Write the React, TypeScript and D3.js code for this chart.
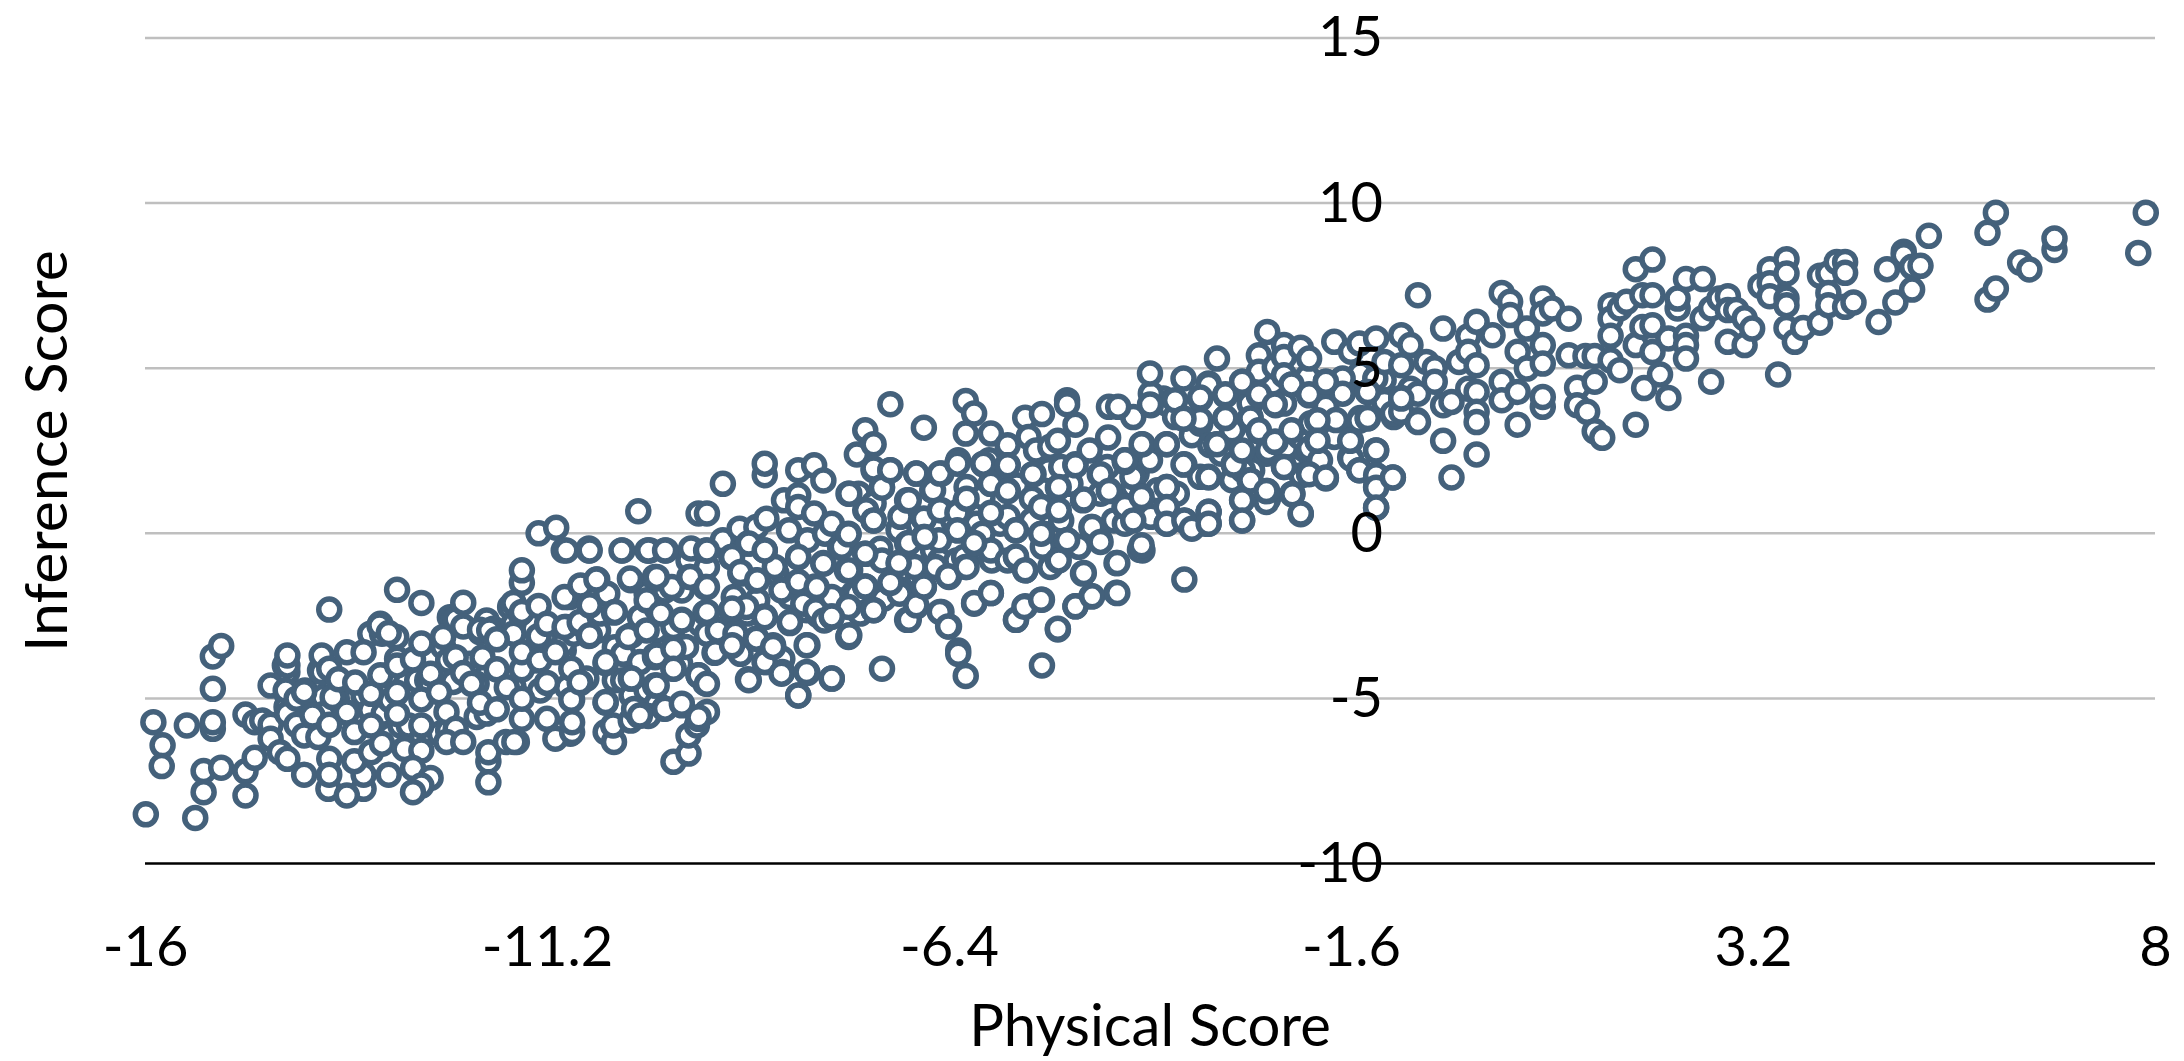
import React, { useEffect, useRef } from 'react'
import * as d3 from 'd3'

const width = 2184
const height = 1061

const xTicks = [-16, -11.2, -6.4, -1.6, 3.2, 8]
const yTicks = [-10, -5, 0, 5, 10, 15]

// left to right in four overlapping bands [physical, inference]
const lowBand: [number, number][] = [
  [-15.99,-8.51],[-15.4,-8.62],[-15.9,-5.72],[-15.79,-6.42],[-15.8,-7.05],[-15.5,-5.82],[-15.19,-4.71],[-15.19,-5.92],[-15.19,-5.72],[-15.19,-3.73],[-15.09,-3.41],
  [-15.3,-7.2],[-15.09,-7.1],[-15.3,-7.84],[-14.8,-7.21],[-14.8,-7.94],[-14.69,-6.8],[-14.8,-5.49],[-14.69,-5.72],[-14.6,-5.67],[-14.5,-5.8],[-14.5,-6.22],[-14.5,-4.61],
  [-14.39,-6.63],[-14.3,-6.83],[-14.3,-4.2],[-14.3,-4],[-14.3,-3.7],[-14.3,-5.47],[-14.32,-4.76],[-14.19,-5.01],[-14.19,-5.8],[-14.1,-4.81],[-14.1,-6.12],[-14.1,-7.31],[-14,-5.52],
  [-13.93,-6.17],[-13.8,-2.31],[-13.89,-4.2],[-13.89,-3.7],[-13.8,-4.1],[-13.76,-4.96],[-13.69,-4.42],[-13.49,-4.52],[-13.59,-3.6],[-13.39,-3.6],[-13.59,-5.43],[-13.8,-5.8],[-13.5,-6.02],
  [-13.81,-7.74],[-13.8,-6.83],[-13.8,-7.31],[-13.39,-7.74],[-13.59,-7.94],[-13.39,-7.31],[-13.5,-6.9],[-13.3,-6.63],[-13.3,-5.82],[-13.3,-4.86],[-13.19,-4.3],[-13.2,-2.79],[-13.09,-3.02],
  [-13.17,-6.37],[-12.99,-1.71],[-12.7,-2.11],[-12.99,-4],[-12.99,-4.83],[-12.99,-5.47],[-12.8,-3.82],[-12.7,-3.34],[-12.7,-5.03],[-12.7,-5.82],[-12.9,-6.53],[-12.7,-6.58],[-13.09,-7.31],
  [-12.8,-7.11],[-12.59,-7.41],[-12.7,-7.64],[-12.8,-7.84],[-12.59,-4.25],[-12.49,-4.81],[-12.44,-3.14],[-12.4,-5.41],[-12.29,-3.75],[-12.29,-2.61],[-12.2,-2.1],[-12.2,-2.82],[-12.2,-4.23],
  [-12.29,-5.92],[-12.4,-6.32],[-12.2,-6.32],[-12.1,-4.56],[-12,-2.92],[-11.97,-3.75],[-11.89,-2.94],[-11.8,-3.21],[-11.8,-4.12],[-12,-5.13],[-11.8,-5.33],[-11.9,-6.91],[-11.9,-6.63],[-11.9,-7.54],
  [-11.69,-6.32],[-11.59,-6.32],[-11.68,-4.66],[-11.5,-5.62],[-11.5,-5.01],[-11.5,-4.12],[-11.5,-3.6],[-11.5,-1.5],[-11.5,-1.12],[-11.6,-2.11],[-11.5,-2.38],[-11.3,-2.2],[-11.3,-3.11],[-11.29,-3.85],
  [-11.1,-3.6],[-11.2,-4.53],[-11.2,-5.62],[-11.1,-6.22],[-11.2,-2.74],[-10.99,-1.93],[-10.99,-2.84],[-10.9,-5.04],[-10.9,-6.02],[-10.9,-5.72],[-10.8,-4.53],[-10.8,-2.74],[-10.7,-3.11],
  [-10.69,-2.2],[-10.8,-1.58],[-10.6,-1.4],[-11,-0.52],[-10.7,-0.52],[-11.3,0],[-11.09,0.17],[-10.3,-0.52],[-10,-0.52],[-10.57,-2.43],[-10.48,-1.83],[-10.4,-2.4],[-10.2,-1.42],[-10.5,-3.93],
  [-10.23,-3.14],[-10.2,-4.4],[-10.5,-5.13],[-10.5,-6.02],[-10.4,-6.32],[-10.41,-5.82],[-10.2,-5.67],[-10.1,-5.52],[-10.16,-5.32],[-10.01,-2.03],[-10.01,-2.94],[-9.91,-3.75],[-9.91,-4.61],[-9.91,-1.37],
  [-10.11,0.67],[-10.7,-0.46],[-9.99,-5.53],[-9.69,-6.92],[-9.51,-6.67],[-9.51,-6.12],[-9.41,-5.82],
]

const midBand: [number, number][] = [
  [-9.97,-0.52],[-9.91,-1.32],[-9.91,-3.7],[-9.84,-2.43],[-9.8,-5.31],[-9.78,-0.52],[-9.71,-1.63],[-9.69,-3.5],[-9.69,-4.1],[-9.59,-5.21],[-9.59,-2.62],[-9.54,-3.44],[-9.5,-1.32],[-9.48,-0.46],
  [-9.39,-4.3],[-9.39,-5.62],[-9.39,0.6],[-9.31,-4.54],[-9.31,-2.41],[-9.31,-1.63],[-9.3,-0.52],[-9.29,-5.41],[-9.29,0.6],[-9.2,-3.62],[-9.16,-2.94],[-9.1,1.5],[-9.1,-0.21],[-9,-0.72],[-9,-2.33],[-9,-3.41],
  [-8.95,-3.04],[-8.9,0.14],[-8.89,-1.22],[-8.82,-2.23],[-8.8,-0.31],[-8.8,-4.42],[-8.7,-1.43],[-8.7,0.19],[-8.7,-3.19],[-8.6,1.76],[-8.6,2.11],[-8.6,-0.52],[-8.6,-2.52],[-8.6,-3.9],[-8.58,0.44],
  [-8.5,-3.39],[-8.48,-1.02],[-8.39,-1.71],[-8.39,-3.8],[-8.39,-4.2],[-8.37,1],[-8.31,0.09],[-8.3,-2.72],[-8.3,-1.93],[-8.2,1.15],[-8.2,0.8],[-8.2,1.91],[-8.2,-0.72],[-8.2,-1.53],[-8.2,-4.91],
  [-8.14,-2.13],[-8.09,-0.21],[-8.09,-3.39],[-8.09,-4.23],[-8.01,2.06],[-8.01,0.6],[-8,-1.61],[-7.99,-2.33],[-7.9,1.6],[-7.9,-0.9],[-7.89,-2.64],[-7.88,-0.01],[-7.8,0.29],[-7.8,-1.93],[-7.8,-2.52],[-7.8,-4.4],
  [-7.7,-0.41],[-7.62,-1.12],[-7.6,1.2],[-7.6,-0.01],[-7.6,-2.23],[-7.6,-3.12],[-7.58,-0.72],[-7.5,2.39],[-7.4,3.12],[-7.4,-0.62],[-7.4,-1.61],[-7.39,0.7],[-7.3,2.7],[-7.3,1.96],[-7.3,0.39],[-7.3,-2.33],
  [-7.2,1.4],[-7.2,-0.82],[-7.2,-4.1],[-7.1,3.91],[-7.1,1.91],[-7.1,-1.51],[-7,0.09],[-7,-0.9],[-6.99,-1.83],[-6.98,0.5],[-6.9,1],[-6.9,-0.31],[-6.9,-2.62],[-6.81,-1.02],[-6.79,1.81],[-6.79,-2.21],
  [-6.7,3.2],[-6.7,0.44],[-6.7,-0.11],[-6.7,-1.63],[-6.6,1.3],[-6.56,-1.02],[-6.52,-0.21],[-6.49,1.81],[-6.49,0.7],[-6.49,-2.38],[-6.4,-1.32],[-6.4,-2.82],[-6.35,0.39],[-6.29,2.21],[-6.29,0.65],[-6.29,0.09],
  [-6.29,-3.55],[-6.29,-3.65],[-6.22,-0.72],[-6.2,4.01],[-6.2,3.02],[-6.2,1],[-6.2,-1.02],[-6.2,-4.32],[-6.1,3.63],[-6.1,-0.31],[-6.1,-2.13],[-6,1.1],[-6,-0.01],[-5.99,2.09],[-5.92,2.21],[-5.9,3.02],[-5.9,1.5],
  [-5.9,0.6],[-5.9,-0.52],[-5.9,-1.81],[-5.7,2.67],[-5.7,2.06],[-5.7,1.3],[-5.7,0.5],[-5.7,-0.82],[-5.6,0.09],[-5.6,-0.72],[-5.6,-2.62],[-5.49,3.5],[-5.49,-1.12],[-5.49,-2.21],[-5.45,2.92],[-5.41,0.39],
  [-5.39,1.79],[-5.36,2.51],[-5.29,3.61],[-5.29,0.8],[-5.29,-0.01],[-5.29,-2.01],[-5.29,-4],[-5.28,-0.41],[-5.19,2.62],[-5.19,-1.02],[-5.1,2.8],[-5.1,1.38],[-5.1,0.68],[-5.1,-0.82],[-5.1,-2.91],[-5.06,2.01],[-5.06,0.39],
  [-4.99,4.03],[-4.99,3.91],[-4.99,-0.21],[-4.89,3.29],[-4.89,2.09],[-4.89,-2.21],[-4.85,-0.41],[-4.8,1],[-4.8,-1.22],[-4.72,2.51],[-4.7,0.19],[-4.7,-1.91],[-4.6,1.79],[-4.6,-0.21],[-4.51,2.01],[-4.5,2.9],
  [-4.49,3.83],[-4.49,1.3],[-4.43,0.39],[-4.4,-0.9],[-4.4,-1.8],[-4.38,3.83],[-4.3,2.21],[-4.3,0.82],[-4.21,1.71],[-4.09,2.7],[-4.09,1.1],[-4.09,-0.52],[-3.99,4.23],[-3.99,3.88],[-3.99,0.5],[-3.91,1.3],
  [-3.8,2.7],[-3.8,1.4],[-3.8,0.29],[-3.7,4.03],[-3.59,3.47],[-3.59,2.09],[-3.59,0.39],[-3.59,-1.4],[-3.4,4.08],[-3.4,1.71],[-3.34,0.29],
]

const highBand: [number, number][] = [
  [-3.4,3.43],[-3.3,4.49],[-3.3,1.71],[-3.3,0.65],[-3.3,0.29],[-3.21,2.69],[-3.2,5.29],[-3.15,2.41],[-3.1,4.18],[-3.1,3.49],[-3.02,3.12],[-3.02,1.61],[-3,2.11],[-2.9,4.59],[-2.9,2.47],[-2.9,1],[-2.9,0.39],[-2.89,1.91],
  [-2.81,3.93],[-2.81,1.61],[-2.8,3.48],[-2.7,5.39],[-2.7,4.89],[-2.7,4.18],[-2.7,3.09],[-2.61,0.95],[-2.6,6.1],[-2.6,1.28],[-2.59,2.52],[-2.51,5.04],[-2.5,3.88],[-2.5,2.77],[-2.4,5.7],[-2.4,5.34],[-2.4,4.79],
  [-2.4,3.93],[-2.4,2.01],[-2.3,4.51],[-2.3,3.09],[-2.3,1.2],[-2.21,2.92],[-2.2,5.62],[-2.2,0.58],[-2.12,4.74],[-2.1,5.29],[-2.1,4.18],[-2.1,2.57],[-2.1,1.81],[-2.08,3.33],[-2,3.4],[-2,2.8],[-1.97,2.21],
  [-1.9,4.59],[-1.9,3.83],[-1.9,1.66],[-1.8,5.8],[-1.8,2.92],[-1.78,3.43],[-1.7,4.69],[-1.7,4.23],[-1.6,5.5],[-1.6,2.8],[-1.6,2.26],[-1.5,5.75],[-1.5,3.41],[-1.5,1.91],[-1.4,4.28],[-1.4,3.48],[-1.31,4.69],
  [-1.3,5.9],[-1.3,2.51],[-1.3,1.76],[-1.3,1.41],[-1.3,0.78],[-1.2,5.19],[-1.2,3.98],[-1.1,3.63],[-1.1,1.69],[-1,6],[-1,5.09],[-1,4.1],[-1,3.68],[-0.89,5.7],[-0.8,7.21],[-0.8,4.23],[-0.8,3.37],[-0.7,5.19],
  [-0.6,5],[-0.6,4.59],[-0.5,6.2],[-0.5,3.88],[-0.5,2.8],[-0.4,3.98],[-0.4,1.69],[-0.31,5.19],[-0.2,5.97],[-0.2,5.5],[-0.2,4.38],[-0.1,6.41],[-0.1,5.09],[-0.1,4.28],[-0.1,3.68],[-0.1,3.37],[-0.1,2.39],
  [0.09,6],[0.2,7.28],[0.2,4.59],[0.2,4.03],[0.3,7.01],[0.3,6.61],[0.39,5.5],[0.39,4.28],[0.39,3.29],[0.5,6.2],[0.5,4.99],[0.69,7.11],[0.69,6.66],[0.69,5.7],[0.69,5.14],[0.69,3.83],[0.69,4.13],[0.8,6.81],
  [1,6.5],[1,5.39],[1.1,4.41],[1.1,3.88],[1.2,5.37],[1.22,3.68],[1.31,5.37],[1.31,4.59],[1.31,3.09],[1.4,2.89],[1.5,6.91],[1.5,6.5],[1.5,5.98],[1.5,5.24],[1.61,6.81],[1.61,4.94],[1.69,7.01],
  [1.8,8],[1.8,5.7],[1.8,3.29],[1.88,7.21],[1.88,6.25],[1.9,4.4],[2,6.3],[2,5.49],[2,8.29],[2,7.21],
]

const upperTail: [number, number][] = [
  [2.09,4.81],[2.19,5.9],[2.19,4.1],[2.3,6.81],[2.3,7.11],[2.4,7.7],[2.4,5.98],[2.4,5.7],[2.4,5.29],[2.6,7.7],[2.6,6.51],[2.7,6.81],[2.7,4.59],[2.8,7.11],[2.9,7.18],[2.9,6.76],[2.9,5.8],[3,6.76],
  [3.1,6.51],[3.1,5.7],[3.19,6.2],[3.29,7.49],[3.4,8],[3.4,7.57],[3.4,7.18],[3.5,4.81],[3.6,8.3],[3.6,7.87],[3.6,7.11],[3.6,6.91],[3.6,6.22],[3.7,5.8],[3.8,6.22],[4,7.8],[4,6.38],[4.1,7.87],[4.1,7.28],[4.1,6.91],
  [4.2,8.22],[4.3,8.22],[4.3,7.89],[4.3,6.86],[4.4,6.99],[4.7,6.4],[4.8,8],[4.9,6.99],[5,8.53],[5,8.42],[5.1,8.07],[5.1,7.38],[5.2,8.1],[5.3,9.01],[6,9.1],[6,7.08],[6.1,9.71],[6.1,7.41],[6.39,8.2],[6.5,7.99],
  [6.8,8.58],[6.8,8.93],[7.8,8.49],[7.89,9.71],
]

// rings mostly hidden in the thick of the cloud, drawn first
const behindRings: [number, number][] = [
  [-14.33,-4],[-14.31,-4.86],[-14.31,-5.26],[-14.09,-4.76],[-13.91,-4.15],[-13.87,-4.96],[-13.87,-5.47],[-13.71,-5.01],[-13.39,-4.91],[-13.31,-3.04],[-13.31,-5.36],[-13.19,-2.74],[-13.17,-3.04],[-13.15,-5.46],[-13.15,-6.17],
  [-13.11,-4.3],[-13.07,-5.06],[-13.07,-6.12],[-13,-3.14],[-12.99,-3.8],[-12.95,-5.82],[-12.85,-5.82],[-12.75,-4.45],[-12.69,-6.17],[-12.63,-4.45],[-12.59,-4.56],[-12.48,-6.07],[-12.44,-3.44],[-12.38,-3.85],[-12.38,-5.97],
  [-12.36,-2.54],[-12.32,-2.64],[-12.32,-4.5],[-12.12,-3.95],[-12.04,-4.56],[-12.04,-5.56],[-12,-2.99],[-11.92,-2.64],[-11.92,-5.46],[-11.84,-2.89],[-11.64,-2.23],[-11.6,-2.74],[-11.6,-3.04],[-11.6,-4.66],[-11.56,-6.32],
  [-11.52,-2.43],[-11.36,-3.85],[-11.28,-4.76],[-11,-2.94],[-11,-3.54],[-11,-3.34],[-10.97,-2.84],[-10.96,-4.66],[-10.93,-1.93],[-10.92,-6.07],[-10.88,-3.04],[-10.73,-4.4],[-10.59,-2.94],[-10.49,-1.83],[-10.39,-3.45],[-10.39,-4.45],
  [-10.29,-3.65],[-10.29,-4.45],[-10.19,-3.09],[-10.19,-4.91],[-10.09,-2.54],[-10.09,-3.9],[-10.01,-1.83],[-10.01,-4.76],[-9.89,-2.28],[-9.89,-2.94],[-9.89,-5.16],[-9.79,-1.73],[-9.69,-2.84],[-9.61,-3.95],[-9.59,-1.73],
  [-9.51,-0.82],[-9.37,-2.74],[-9.29,-1.02],[-9.29,-3.04],[-9.05,-2.84],[-8.97,-1.93],[-8.89,-3.65],[-8.81,-2.43],[-8.69,-2.03],[-8.46,-1.22],[-8.41,-3.85],[-8.1,-2.33],[-7.96,-2.48],[-7.66,-2.03],[-7.58,-1.12],[-7.58,-2.23],
  [-7.54,-1.83],[-7.5,-1.83],[-7.48,1.2],[-7.46,-2.43],[-7.4,0.7],[-7.3,1.91],[-7.3,0.9],[-7.22,-0.47],[-7.18,-1.98],[-7,0.14],[-7,-1.68],[-6.79,1.81],[-6.79,0.19],[-6.77,-1.32],[-6.7,0.44],[-6.59,-0.52],[-6.51,-0.82],[-6.31,-0.82],
  [-6.19,1.4],[-6.07,0.29],[-5.99,-0.51],[-5.89,-0.82],[-5.79,0.29],[-5.59,1.45],[-5.41,1.05],[-5.21,1.91],[-5.21,0.6],[-5.19,-0.41],[-5.11,-0.82],[-4.95,1.5],[-4.59,1.2],[-4.39,1.6],[-4.2,3.52],[-4.2,1.4],[-4.16,1.81],
  [-4,2.21],[-3.84,4.08],[-3.8,3.93],[-3.7,3.52],[-3.68,1.2],[-3.5,2.97],[-3.4,3.32],[-3.3,4.54],[-3.28,2.67],[-3.04,2.41],[-3,3.22],[-3,1.66],[-2.98,3.83],[-2.8,3.52],[-2.8,3.93],[-2.78,1.91],[-2.61,2.41],[-2.59,1.05],[-2.53,4.54],
  [-2.37,2.61],[-2.29,2.01],[-2.19,1.76],[-2.13,2.51],[-1.89,3.93],[-1.77,3.22],[-1.69,4.33],[-1.61,2.31],[-1.49,3.49],[-1.49,4.84],[-1.21,4.64],[-1.17,4.03],[-1.09,3.52],[-0.89,4.38],[-0.81,3.42],
]

// rings lying on top of the cloud, drawn last
const frontRings: [number, number][] = [
  [-10.97,-0.52],[-10.91,-4.1],[-10.91,-5.04],[-10.81,-2.69],[-10.81,-4.51],[-10.69,-0.52],[-10.69,-2.18],[-10.69,-3.09],[-10.61,-1.4],[-10.5,-3.9],[-10.5,-5.11],[-10.39,-2.38],[-10.31,-0.52],[-10.21,-1.37],[-10.19,-4.4],[-10.09,-5.52],
  [-9.99,-0.52],[-9.89,-1.32],[-9.89,-3.7],[-9.89,-4.61],[-9.79,-0.52],[-9.79,-5.31],[-9.69,-3.5],[-9.69,-4.1],[-9.59,-2.64],[-9.59,-5.16],[-9.49,-1.32],[-9.39,-4.3],[-9.39,-5.57],[-9.29,-0.52],[-9.29,-1.63],[-9.29,-2.38],[-9.29,-4.56],[-9.19,-3.6],
  [-8.99,-0.72],[-8.99,-2.28],[-8.99,-3.39],[-8.89,-1.17],[-8.79,-0.31],[-8.79,-4.45],[-8.7,-3.19],[-8.69,-1.42],[-8.6,-0.52],[-8.6,-2.54],[-8.6,-3.9],[-8.5,-3.44],[-8.4,-1.73],[-8.4,-4.25],[-8.3,-2.69],[-8.2,-0.72],[-8.2,-1.47],[-8.2,-4.91],
  [-8.1,-3.39],[-8.1,-4.2],[-7.98,-1.63],[-7.9,-0.92],[-7.8,-2.52],[-7.8,-4.4],[-7.7,-0.41],[-7.6,-1.12],[-7.6,-3.14],[-7.68,-0.41],[-7.6,-0.03],[-7.59,1.2],[-7.59,-3.09],[-7.4,-0.62],[-7.4,-1.61],[-7.3,0.39],[-7.3,-2.33],[-7.2,1.38],
  [-7.1,1.91],[-7.1,-1.5],[-7,-0.9],[-6.88,1],[-6.88,-0.29],[-6.88,-2.62],[-6.79,-2.18],[-6.7,-1.61],[-6.69,-0.11],[-6.59,1.3],[-6.51,1.81],[-6.51,0.7],[-6.51,-2.38],[-6.41,-1.3],[-6.41,-2.82],[-6.3,2.11],[-6.3,0.62],[-6.3,0.09],
  [-6.19,1.05],[-6.19,-1.02],[-6.1,-0.29],[-6.1,-2.11],[-5.99,2.11],[-5.9,1.5],[-5.9,0.62],[-5.9,-1.81],[-5.7,2.06],[-5.7,1.28],[-5.6,0.09],[-5.6,-0.7],[-5.6,-2.62],[-5.5,-2.23],[-5.49,-1.12],[-5.4,1.79],[-5.3,0.8],[-5.3,-0.01],[-5.3,-2.01],
  [-5.1,-2.89],[-5.09,1.4],[-5.09,0.7],[-5.09,-0.82],[-4.99,-0.21],[-4.89,2.06],[-4.89,-2.21],[-4.79,1.02],[-4.79,-1.2],[-4.69,0.19],[-4.69,-1.91],[-4.59,1.79],[-4.59,-0.26],[-4.49,1.28],[-4.39,-0.9],[-4.39,-1.81],[-4.3,2.16],[-4.3,0.8],[-4.3,2.21],[-4.3,0.29],
  [-4.3,0.8],[-4.2,0.39],[-4.12,-0.5],[-4.1,2.7],[-4.1,1.1],[-4.1,-0.36],[-4,4.84],[-4,3.9],[-3.8,2.7],[-3.8,1.4],[-3.8,0.8],[-3.8,0.29],[-3.6,4.69],[-3.6,3.47],[-3.6,2.08],[-3.59,0.39],[-3.5,0.14],[-3.4,4.11],[-3.3,1.69],[-3.3,0.65],[-3.3,0.29],[-3.2,2.7],
  [-3.1,4.21],[-3.1,3.49],[-3,2.08],[-2.9,4.59],[-2.9,2.51],[-2.9,1],[-2.9,0.39],[-2.8,1.6],[-2.7,4.21],[-2.7,3.12],[-2.61,1.28],[-2.51,3.9],[-2.51,2.77],[-2.4,2.01],[-2.31,4.51],[-2.31,3.12],[-2.3,1.18],[-2.2,0.6],[-2.1,4.21],[-2.1,1.79],
  [-2,3.42],[-2,2.8],[-1.9,4.59],[-1.9,1.69],[-1.61,2.8],[-1.5,1.91],[-1.4,4.28],[-1.4,3.49],[-1.3,2.51],[-1.3,1.76],[-1.3,1.38],[-1.3,0.78],[-1.1,1.69],[-1,4.08],
]

const series = [...behindRings, ...lowBand, ...midBand, ...highBand, ...upperTail, ...frontRings]

const App = () => {
  const svgRef = useRef<SVGSVGElement>(null)

  useEffect(() => {
    const svg = d3.select(svgRef.current)
    svg.selectAll('*').remove()

    const x = d3.scaleLinear().domain([-16, 8]).range([145, 2155])
    const y = d3.scaleLinear().domain([-10, 15]).range([863.5, 38])

    svg.append('g')
      .selectAll('line')
      .data(yTicks)
      .enter()
      .append('line')
      .attr('x1', x(-16))
      .attr('x2', x(8))
      .attr('y1', d => y(d))
      .attr('y2', d => y(d))
      .attr('stroke', d => (d === -10 ? '#000000' : '#bfbfbf'))
      .attr('stroke-width', 2.5)

    svg.append('g')
      .selectAll('circle')
      .data(series)
      .enter()
      .append('circle')
      .attr('cx', d => x(d[0]))
      .attr('cy', d => y(d[1]))
      .attr('r', 10.5)
      .attr('fill', '#ffffff')
      .attr('stroke', '#44617b')
      .attr('stroke-width', 5.5)

    const xAxis = svg.append('g')
      .attr('transform', `translate(0,${y(-10)})`)
      .call(d3.axisBottom(x).tickValues(xTicks).tickSize(0).tickPadding(63).tickFormat(d => String(d)))
    const yAxis = svg.append('g')
      .attr('transform', 'translate(1383,0)')
      .call(d3.axisLeft(y).tickValues(yTicks).tickSize(0).tickPadding(0).tickFormat(d => String(d)))

    ;[xAxis, yAxis].forEach(axis => {
      axis.select('.domain').remove()
      axis.selectAll('text')
        .attr('font-family', 'Lato')
        .attr('font-size', 56)
        .attr('fill', '#000000')
    })

    svg.append('text')
      .attr('x', 1150)
      .attr('y', 1046)
      .attr('text-anchor', 'middle')
      .attr('font-family', 'Lato')
      .attr('font-size', 58)
      .text('Physical Score')

    svg.append('text')
      .attr('transform', 'translate(67,451) rotate(-90)')
      .attr('text-anchor', 'middle')
      .attr('font-family', 'Lato')
      .attr('font-size', 59)
      .text('Inference Score')
  }, [])

  return <svg ref={svgRef} width={width} height={height} style={{ position: 'absolute', left: 0, top: 0, background: '#ffffff' }} />
}

export default App
